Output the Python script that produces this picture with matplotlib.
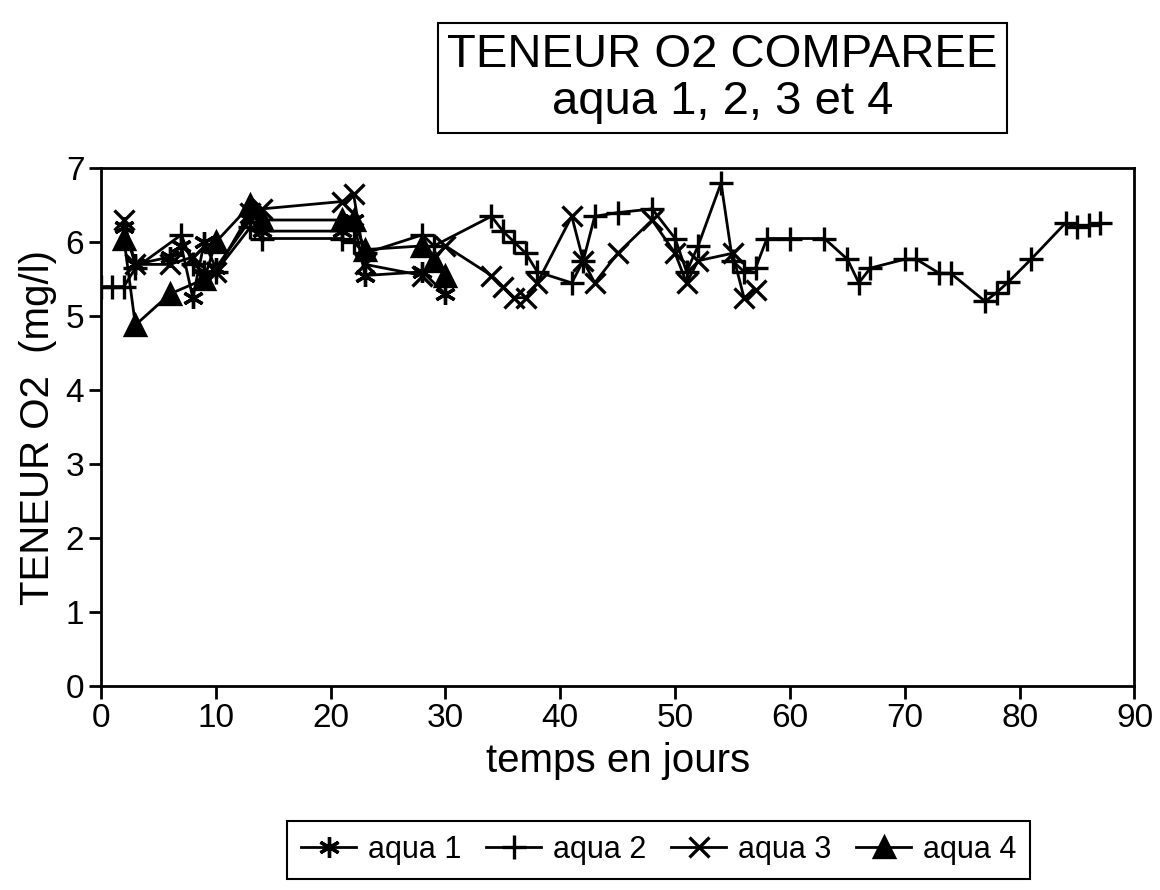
import matplotlib
matplotlib.use("Agg")
import matplotlib.pyplot as plt

plt.rcParams.update({
    "font.family": ["Liberation Sans", "DejaVu Sans"],
    "axes.linewidth": 2.0,
})

# aqua 1 (asterisk)
x1 = [2, 3, 6, 7, 8, 9, 10, 13, 14, 21, 22, 23, 28, 30]
y1 = [6.2, 5.7, 5.8, 5.95, 5.25, 6.0, 5.65, 6.3, 6.15, 6.15, 6.3, 5.55, 5.6, 5.3]
# aqua 2 (+)
x2 = [0, 1, 2, 3, 7, 8, 9, 10, 13, 14, 21, 22, 23, 28, 29, 34, 35, 36, 37, 38,
      41, 42, 43, 45, 48, 50, 51, 52, 54, 55, 56, 57, 58, 60, 63, 65, 66, 67,
      70, 71, 73, 74, 77, 78, 79, 81, 84, 85, 86, 87]
y2 = [5.4, 5.4, 5.4, 5.65, 6.1, 5.7, 5.6, 5.6, 6.2, 6.05, 6.05, 6.0, 5.85, 6.1, 5.95,
      6.35, 6.15, 6.0, 5.85, 5.6, 5.45, 5.75, 6.35, 6.4, 6.45, 6.05, 5.6, 5.95, 6.8,
      5.75, 5.6, 5.65, 6.05, 6.05, 6.05, 5.77, 5.45, 5.65, 5.77, 5.77, 5.58, 5.58,
      5.2, 5.32, 5.46, 5.77, 6.26, 6.2, 6.23, 6.26]
# aqua 3 (x)
x3 = [2, 3, 6, 8, 9, 10, 13, 14, 21, 22, 23, 28, 30, 34, 35, 36, 37, 38, 41, 42,
      43, 45, 48, 50, 51, 52, 55, 56, 57]
y3 = [6.3, 5.7, 5.7, 5.8, 5.5, 5.6, 6.4, 6.45, 6.55, 6.65, 5.7, 5.55, 5.95, 5.55,
      5.4, 5.25, 5.25, 5.45, 6.35, 5.75, 5.45, 5.85, 6.3, 5.85, 5.45, 5.75, 5.85,
      5.25, 5.35]
# aqua 4 (triangle)
x4 = [2, 3, 6, 9, 10, 13, 14, 21, 22, 23, 28, 29, 30]
y4 = [6.05, 4.88, 5.3, 5.5, 6.0, 6.5, 6.3, 6.3, 6.3, 5.9, 5.95, 5.75, 5.55]

SERIES = [("aqua 1", x1, y1, (6, 2, 0), 15),
          ("aqua 2", x2, y2, "+", 17),
          ("aqua 3", x3, y3, "x", 14),
          ("aqua 4", x4, y4, "^", 15)]

fig = plt.figure(figsize=(11.6, 8.9), dpi=100)
ax = fig.add_axes([0.087, 0.229, 0.891, 0.582])

for label, xs, ys, mk, ms in SERIES:
    ax.plot(xs, ys, color="black", lw=2.0, marker=mk, ms=ms, mew=2.4,
            mfc="black", mec="black", label=label)

ax.set_xlim(0, 90)
ax.set_ylim(0, 7)
ax.set_xticks(range(0, 91, 10))
ax.set_yticks(range(0, 8))
ax.tick_params(direction="out", length=9, width=2, labelsize=24, pad=3)
ax.set_xlabel("temps en jours", fontsize=29, labelpad=6)
ax.set_ylabel("TENEUR O2  (mg/l)", fontsize=29, labelpad=6)

fig.text(0.623, 0.912, "TENEUR O2 COMPAREE\naqua 1, 2, 3 et 4", ha="center",
         va="center", fontsize=34, linespacing=1.1,
         bbox=dict(boxstyle="square,pad=0.2", fc="white", ec="black", lw=1.5))

leg = fig.legend(loc="center", bbox_to_anchor=(0.568, 0.045), ncol=4, fontsize=22,
                 frameon=True, fancybox=False, edgecolor="black", framealpha=1,
                 handlelength=1.8, handletextpad=0.4, columnspacing=0.8,
                 borderpad=0.45)
leg.get_frame().set_linewidth(1.5)

fig.savefig("out.png", dpi=100)
